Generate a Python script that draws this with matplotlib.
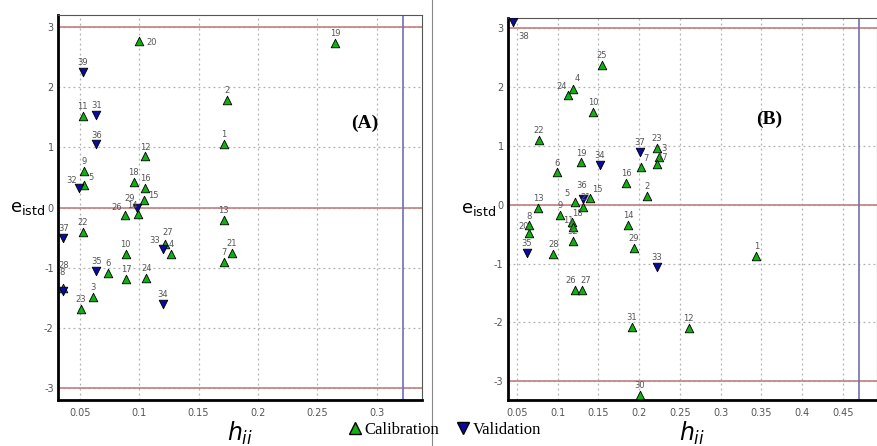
import matplotlib
matplotlib.use("Agg")
import matplotlib.pyplot as plt
from matplotlib.lines import Line2D

plt.rcParams["axes.unicode_minus"] = False

# ---- datos -----------------------------------------------------------------

# Panel A
cal_id_a = ["20", "19", "11", "2", "1", "12", "9", "5", "18", "16", "15", "14", "26",
            "22", "27", "4", "10", "6", "17", "24", "8", "3", "23", "13", "7", "21"]
cal_h_a = [0.100, 0.265, 0.0525, 0.174, 0.171, 0.105, 0.0535, 0.0535, 0.0954, 0.105,
           0.104, 0.099, 0.088, 0.0525, 0.122, 0.127, 0.0887, 0.074, 0.089, 0.106,
           0.036, 0.061, 0.051, 0.171, 0.171, 0.178]
cal_e_a = [2.77, 2.74, 1.53, 1.79, 1.06, 0.85, 0.61, 0.37, 0.42, 0.32, 0.12, -0.10,
           -0.13, -0.41, -0.60, -0.77, -0.77, -1.09, -1.18, -1.17, -1.33, -1.49, -1.68,
           -0.20, -0.90, -0.75]
val_id_a = ["39", "31", "36", "32", "29", "37", "33", "35", "28", "34"]
val_h_a = [0.0525, 0.064, 0.064, 0.049, 0.098, 0.036, 0.120, 0.064, 0.036, 0.120]
val_e_a = [2.26, 1.54, 1.05, 0.32, 0.0, -0.50, -0.68, -1.06, -1.39, -1.60]
h_star_a = 0.322

# Panel B
cal_id_b = ["25", "24", "4", "10", "22", "19", "6", "7", "23", "3", "17", "16", "2",
            "14", "29", "1", "12", "31", "30", "26", "27", "28", "20", "8", "13", "9",
            "18", "11", "32", "5", "15", "21"]
cal_h_b = [0.154, 0.113, 0.119, 0.144, 0.077, 0.129, 0.099, 0.202, 0.222, 0.224,
           0.222, 0.184, 0.210, 0.187, 0.194, 0.344, 0.261, 0.191, 0.201, 0.121,
           0.130, 0.095, 0.065, 0.065, 0.076, 0.103, 0.118, 0.119, 0.119, 0.122,
           0.140, 0.131]
cal_e_b = [2.38, 1.87, 1.97, 1.58, 1.10, 0.72, 0.55, 0.65, 0.97, 0.82, 0.70, 0.37,
           0.15, -0.34, -0.73, -0.87, -2.09, -2.07, -3.23, -1.45, -1.45, -0.83, -0.48,
           -0.34, -0.05, -0.17, -0.29, -0.38, -0.62, 0.05, 0.12, -0.03]
val_id_b = ["38", "34", "37", "33", "35", "36"]
val_h_b = [0.045, 0.152, 0.201, 0.222, 0.062, 0.131]
val_e_b = [3.11, 0.68, 0.90, -1.05, -0.82, 0.10]
h_star_b = 0.47

# etiquetas que no van encima del marcador
desplazados = {("A", "20"): (9, -3), ("B", "38"): (8, -12),
               ("A", "8"): (-1, 9), ("A", "28"): (0, 17), ("A", "33"): (-6, 4),
               ("A", "15"): (7, 2), ("A", "14"): (-4, 4), ("A", "26"): (-6, 4),
               ("A", "32"): (-5, 4), ("A", "5"): (5, 4), ("A", "29"): (-5, 5),
               ("B", "8"): (0, 4), ("B", "20"): (-4, 3), ("B", "18"): (4, 4),
               ("B", "11"): (-3, 3), ("B", "5"): (-6, 4), ("B", "21"): (2, 5),
               ("B", "3"): (4, 4), ("B", "17"): (4, 3), ("B", "7"): (4, 4),
               ("B", "26"): (-3, 5), ("B", "27"): (3, 5), ("A", "27"): (2, 6),
               ("B", "24"): (-5, 4), ("B", "4"): (3, 6), ("B", "36"): (-1, 8),
               ("B", "15"): (5, 4)}

verde = "#10b010"
azul = "#0a0aa0"
rojo = "#c08080"

fig = plt.figure(figsize=(8.77, 4.46), dpi=100)


def panel(rect, nombre, ch, ce, cid, vh, ve, vid, hstar, xlim, ylim, xticks, texto_pos):
    ax = fig.add_axes(rect)
    ax.set_xlim(*xlim)
    ax.set_ylim(*ylim)
    ax.set_xticks(xticks)
    ax.set_xticklabels([f"{t:g}" for t in xticks])
    ax.set_yticks([-3, -2, -1, 0, 1, 2, 3])
    ax.grid(True, color="#b0b0b0", linestyle=(0, (1.5, 2.5)), linewidth=0.9)
    ax.tick_params(length=0, pad=3, labelsize=7, labelcolor="#555555")
    ax.tick_params(axis="x", pad=6)

    for s in ["left", "bottom"]:
        ax.spines[s].set_linewidth(2.0)
    for s in ["top", "right"]:
        ax.spines[s].set_linewidth(0.8)
        ax.spines[s].set_color("#555555")

    for y in [-3, 0, 3]:
        ax.axhline(y, color=rojo, lw=1.2, zorder=2)
    ax.axvline(hstar, color="#7070b0", lw=1.2, zorder=2)

    ax.scatter(ch, ce, marker="^", s=38, color=verde, edgecolors="black",
               linewidths=0.6, zorder=4)
    ax.scatter(vh, ve, marker="v", s=38, color=azul, edgecolors="black",
               linewidths=0.6, zorder=4)

    for h, e, t in list(zip(ch, ce, cid)) + list(zip(vh, ve, vid)):
        off = desplazados.get((nombre, t), (0, 5))
        ax.annotate(t, (h, e), xytext=off, textcoords="offset points",
                    ha="center", fontsize=6, color="#555555", zorder=5)

    ax.text(texto_pos[0], texto_pos[1], f"({nombre})", fontsize=14, fontweight="bold",
            family="Liberation Serif", ha="center", va="center")
    ax.set_ylabel(r"e$_{\rm istd}$", rotation=0, fontsize=13, family="DejaVu Sans",
                  va="center", ha="right")
    ax.set_xlabel(r"$h_{ii}$", fontsize=17, labelpad=1)
    return ax


ax_a = panel([0.066, 0.103, 0.415, 0.863], "A", cal_h_a, cal_e_a, cal_id_a,
             val_h_a, val_e_a, val_id_a, h_star_a, (0.0315, 0.338), (-3.2, 3.2),
             [0.05, 0.1, 0.15, 0.2, 0.25, 0.3], (0.29, 1.4))
ax_a.yaxis.set_label_coords(-0.036, 0.5)

ax_b = panel([0.579, 0.103, 0.421, 0.857], "B", cal_h_b, cal_e_b, cal_id_b,
             val_h_b, val_e_b, val_id_b, h_star_b, (0.039, 0.492), (-3.32, 3.18),
             [0.05, 0.1, 0.15, 0.2, 0.25, 0.3, 0.35, 0.4, 0.45], (0.36, 1.45))
ax_b.yaxis.set_label_coords(-0.032, 0.5)

# linea separadora entre paneles
fig.add_artist(Line2D([432 / 877, 432 / 877], [0, 1], color="#888888", lw=0.8))

marcas = [Line2D([], [], marker="^", ls="none", color=verde, markeredgecolor="black",
                 markersize=8, label="Calibration"),
          Line2D([], [], marker="v", ls="none", color=azul, markeredgecolor="black",
                 markersize=8, label="Validation")]
fig.legend(handles=marcas, loc="lower center", bbox_to_anchor=(0.505, -0.015), ncol=2,
           frameon=False, handletextpad=0.0, columnspacing=0.8, handlelength=1.2,
           prop={"family": "Liberation Serif", "size": 12})

fig.savefig("out.png", dpi=100)
